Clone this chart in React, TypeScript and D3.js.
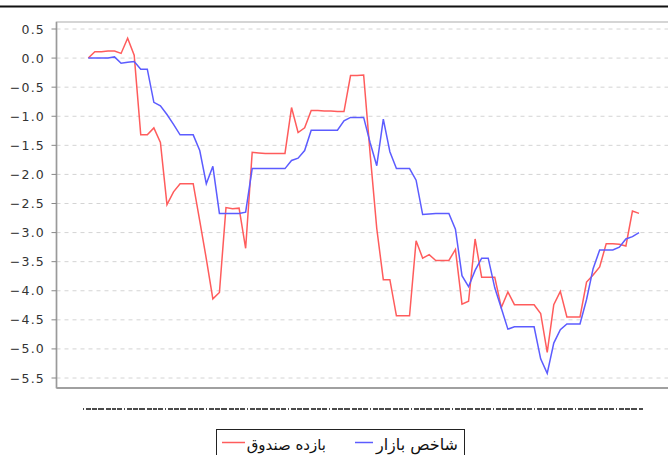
import React from 'react';
import * as d3 from 'd3';

// fund return vs. market index, one value per trading day
const fundReturn = [
  0, 0.11, 0.11, 0.12, 0.12, 0.08, 0.34, 0.05, -1.32, -1.32,
  -1.2, -1.45, -2.52, -2.3, -2.16, -2.16, -2.16, -2.8, -3.45, -4.14,
  -4.03, -2.57, -2.59, -2.58, -3.27, -1.62, -1.63, -1.64, -1.64, -1.64,
  -1.64, -0.85, -1.28, -1.2, -0.9, -0.9, -0.91, -0.91, -0.92, -0.92,
  -0.3, -0.3, -0.29, -1.66, -2.93, -3.81, -3.81, -4.43, -4.43, -4.43,
  -3.14, -3.44, -3.38, -3.48, -3.48, -3.48, -3.29, -4.23, -4.18, -3.11,
  -3.77, -3.77, -3.77, -4.29, -4.02, -4.24, -4.24, -4.24, -4.24, -4.39,
  -5.06, -4.24, -4.01, -4.45, -4.45, -4.45, -3.85, -3.73, -3.59, -3.19,
  -3.19, -3.2, -3.23, -2.63, -2.67
];

const marketIndex = [
  0, 0, 0, 0, 0.02, -0.09, -0.07, -0.06, -0.19, -0.19,
  -0.76, -0.82, -0.97, -1.14, -1.32, -1.32, -1.32, -1.59, -2.16, -1.86,
  -2.67, -2.67, -2.67, -2.67, -2.65, -1.9, -1.9, -1.9, -1.9, -1.9,
  -1.9, -1.76, -1.72, -1.59, -1.24, -1.24, -1.24, -1.24, -1.24, -1.08,
  -1.02, -1.02, -1.02, -1.46, -1.85, -1.05, -1.61, -1.9, -1.9, -1.9,
  -2.1, -2.69, -2.68, -2.67, -2.67, -2.67, -2.94, -3.74, -3.93, -3.65,
  -3.44, -3.44, -3.95, -4.3, -4.66, -4.62, -4.62, -4.62, -4.62, -5.17,
  -5.42, -4.9, -4.67, -4.57, -4.57, -4.57, -4.15, -3.62, -3.3, -3.3,
  -3.3, -3.25, -3.11, -3.07, -3.0
];

const yTicks = [0.5, 0.0, -0.5, -1.0, -1.5, -2.0, -2.5, -3.0, -3.5, -4.0, -4.5, -5.0, -5.5];

const seriesNames = ['بازده صندوق', 'شاخص بازار'];
const seriesColors = ['#ff5c5c', '#5c5cff'];

const W = 668;
const H = 455;
const plot = { left: 56.5, top: 22, right: 680, bottom: 388 };

export default function App() {
  const x = d3.scaleLinear().domain([0, fundReturn.length - 1]).range([88.3, 639]);
  const y = d3.scaleLinear().domain([0.5, -5.5]).range([29, 378]);

  const line = d3.line<number>()
    .x((d, i) => x(i))
    .y(d => y(d));

  const fmt = (v: number) => d3.format('.1f')(v).replace('-', '\u2212');

  return (
    <svg width={W} height={H} style={{ position: 'absolute', left: 0, top: 0, background: '#fff' }}
      fontFamily="'DejaVu Sans', sans-serif">
      {/* top rule */}
      <line x1={0} x2={W} y1={6.5} y2={6.5} stroke="#111" strokeWidth={2} />

      {/* grid */}
      {yTicks.map(t => (
        <line key={t} x1={plot.left} x2={plot.right} y1={y(t)} y2={y(t)}
          stroke="#d4d4d4" strokeDasharray="4,4" />
      ))}

      {/* frame */}
      <rect x={plot.left} y={plot.top} width={plot.right - plot.left} height={plot.bottom - plot.top}
        fill="none" stroke="#c8c8c8" strokeWidth={1.5} />
      <line x1={plot.left} x2={plot.left} y1={plot.top} y2={plot.bottom} stroke="#9a9a9a" strokeWidth={1.5} />
      <line x1={plot.left} x2={plot.right} y1={plot.bottom} y2={plot.bottom} stroke="#a0a0a0" strokeWidth={2} />

      {/* y axis ticks + labels */}
      {yTicks.map(t => (
        <g key={'t' + t}>
          <line x1={plot.left - 5} x2={plot.left} y1={y(t)} y2={y(t)} stroke="#888" />
          <text x={45} y={y(t)} dy="0.36em" textAnchor="end" fontSize={12.5} fill="#333"
            letterSpacing={1.2}>{fmt(t)}</text>
        </g>
      ))}

      {/* series */}
      <path d={line(fundReturn) || ''} fill="none" stroke={seriesColors[0]} strokeWidth={1.5} />
      <path d={line(marketIndex) || ''} fill="none" stroke={seriesColors[1]} strokeWidth={1.5} />

      {/* crowded x labels */}
      <line x1={83} x2={643} y1={409} y2={409} stroke="#111" strokeWidth={1.5}
        strokeDasharray="1,2,5,1,5,1,6,2,5,1,4,1,5,2" />

      {/* legend */}
      <rect x={216.5} y={429.5} width={248} height={30} fill="#fff" stroke="#222" strokeWidth={1} />
      <text x={458} y={450} textAnchor="end" fontSize={16} fill="#111">{seriesNames[1]}</text>
      <line x1={355} x2={373} y1={442.5} y2={442.5} stroke={seriesColors[1]} strokeWidth={1.5} />
      <text x={326} y={450} textAnchor="end" fontSize={15} fill="#111">{seriesNames[0]}</text>
      <line x1={222} x2={245} y1={442.5} y2={442.5} stroke={seriesColors[0]} strokeWidth={1.5} />
    </svg>
  );
}
